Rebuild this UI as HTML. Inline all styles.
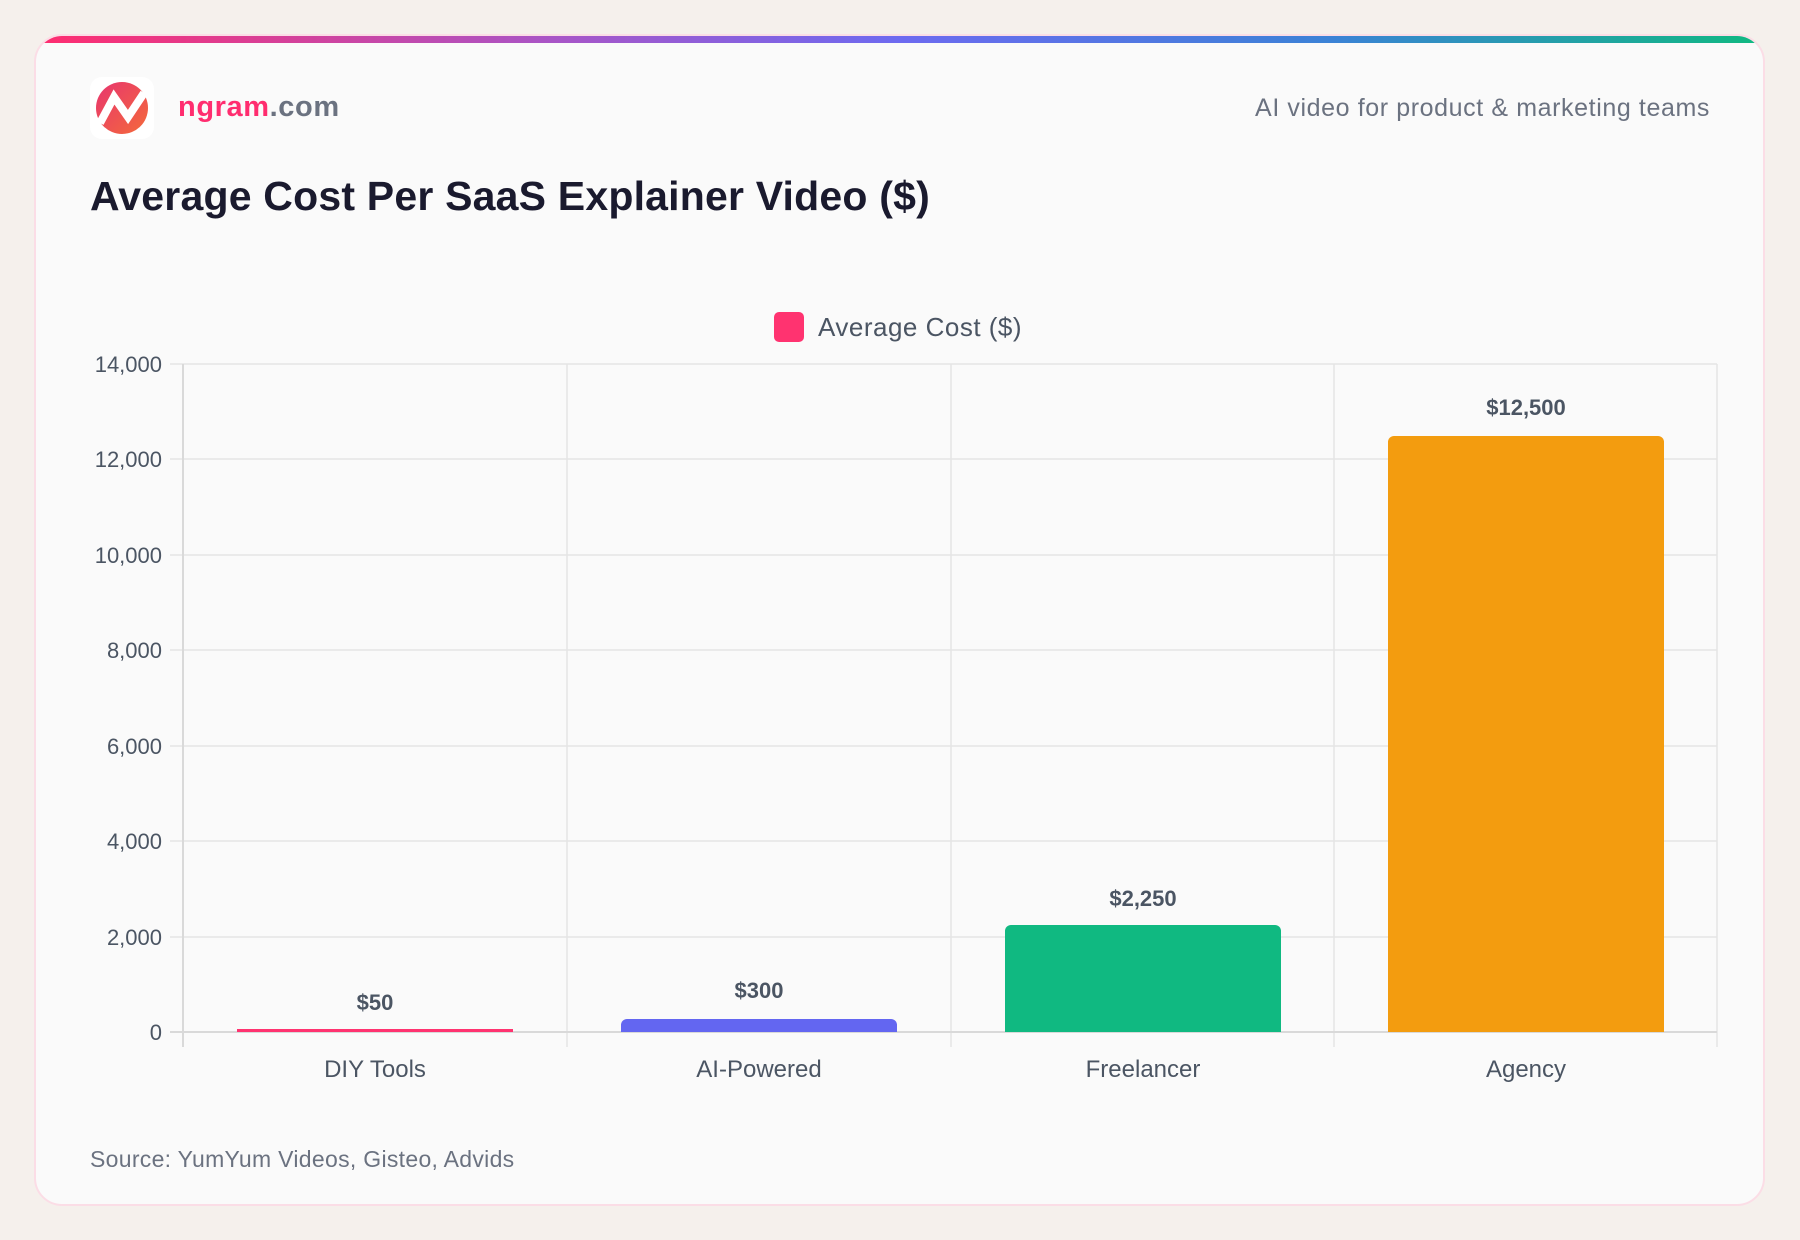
<!DOCTYPE html>
<html><head><meta charset="utf-8"><style>
html,body{margin:0;padding:0;background:#f5f0ec;width:1800px;height:1240px;overflow:hidden;font-family:"Liberation Sans",sans-serif;}
.card{position:absolute;left:34px;top:34px;width:1731px;height:1172px;background:#fafafa;border-radius:28px;border:2px solid #fbdde6;box-sizing:border-box;overflow:hidden;}
.bar{position:absolute;left:0;top:0;width:100%;height:7px;background:linear-gradient(90deg,#ff2d6f,#a855c7 30%,#6d6af0 50%,#3b82d6 75%,#10b981);}
.t{position:absolute;white-space:nowrap;}
</style></head><body>
<div class="card"><div class="bar"></div></div>
<svg style="position:absolute;left:90px;top:77px" width="64" height="62" viewBox="0 0 64 62">
<rect x="0" y="0" width="64" height="62" rx="12" fill="#fff"/>
<defs><linearGradient id="g" x1="0" y1="0" x2="1" y2="1"><stop offset="0" stop-color="#e8356f"/><stop offset="1" stop-color="#f46a3a"/></linearGradient></defs>
<circle cx="32" cy="31" r="26" fill="url(#g)"/>
<path d="M10 46 L24 20 L38 40 L54 16" stroke="#fff" stroke-width="8" fill="none" stroke-linejoin="miter"/>
</svg>
<div class="t" style="left:178px;top:91px;font-size:29px;letter-spacing:0.6px;font-weight:bold;color:#ff2d6f">ngram<span style="color:#6b7280">.com</span></div>
<div class="t" style="right:90px;top:94px;font-size:25px;letter-spacing:0.6px;color:#6b7280">AI video for product &amp; marketing teams</div>
<div class="t" style="left:90px;top:173px;font-size:41px;letter-spacing:0.2px;font-weight:bold;color:#1a1a2e">Average Cost Per SaaS Explainer Video ($)</div>
<svg style="position:absolute;left:0;top:0" width="1800" height="1240" font-family="Liberation Sans, sans-serif">
<rect x="774" y="312" width="30" height="30" rx="5" fill="#ff3370"/>
<text x="818" y="336" font-size="26" letter-spacing="0.5" fill="#4b5563">Average Cost ($)</text>
<g stroke="#e5e5e5" stroke-width="1.5">
<line x1="170" y1="364" x2="1717" y2="364"/>
<line x1="170" y1="459" x2="1717" y2="459"/>
<line x1="170" y1="555" x2="1717" y2="555"/>
<line x1="170" y1="650" x2="1717" y2="650"/>
<line x1="170" y1="746" x2="1717" y2="746"/>
<line x1="170" y1="841" x2="1717" y2="841"/>
<line x1="170" y1="937" x2="1717" y2="937"/>
<line x1="567" y1="364" x2="567" y2="1047"/>
<line x1="951" y1="364" x2="951" y2="1047"/>
<line x1="1334" y1="364" x2="1334" y2="1047"/>
<line x1="1717" y1="364" x2="1717" y2="1047"/>
</g>
<g stroke="#d9d9d9" stroke-width="2"><line x1="183" y1="364" x2="183" y2="1047"/><line x1="170" y1="1032" x2="1717" y2="1032"/></g>
<g font-size="22" fill="#4b5563" text-anchor="end">
<text x="162" y="372">14,000</text><text x="162" y="467">12,000</text><text x="162" y="563">10,000</text><text x="162" y="658">8,000</text><text x="162" y="754">6,000</text><text x="162" y="849">4,000</text><text x="162" y="945">2,000</text><text x="162" y="1040">0</text>
</g>
<rect x="237" y="1029" width="276" height="3" fill="#ff3370"/>
<path d="M621 1032 V1025 a6 6 0 0 1 6 -6 H891 a6 6 0 0 1 6 6 V1032Z" fill="#6366f1"/>
<path d="M1005 1032 V931 a6 6 0 0 1 6 -6 H1275 a6 6 0 0 1 6 6 V1032Z" fill="#10b981"/>
<path d="M1388 1032 V442 a6 6 0 0 1 6 -6 H1658 a6 6 0 0 1 6 6 V1032Z" fill="#f39c0f"/>
<g font-size="22" font-weight="bold" fill="#4b5563" text-anchor="middle">
<text x="375" y="1010">$50</text><text x="759" y="998">$300</text><text x="1143" y="906">$2,250</text><text x="1526" y="415">$12,500</text>
</g>
<g font-size="24" fill="#4b5563" text-anchor="middle">
<text x="375" y="1077">DIY Tools</text><text x="759" y="1077">AI-Powered</text><text x="1143" y="1077">Freelancer</text><text x="1526" y="1077">Agency</text>
</g>
<text x="90" y="1167" font-size="23" letter-spacing="0.3" fill="#6b7280">Source: YumYum Videos, Gisteo, Advids</text>
</svg>
</body></html>
